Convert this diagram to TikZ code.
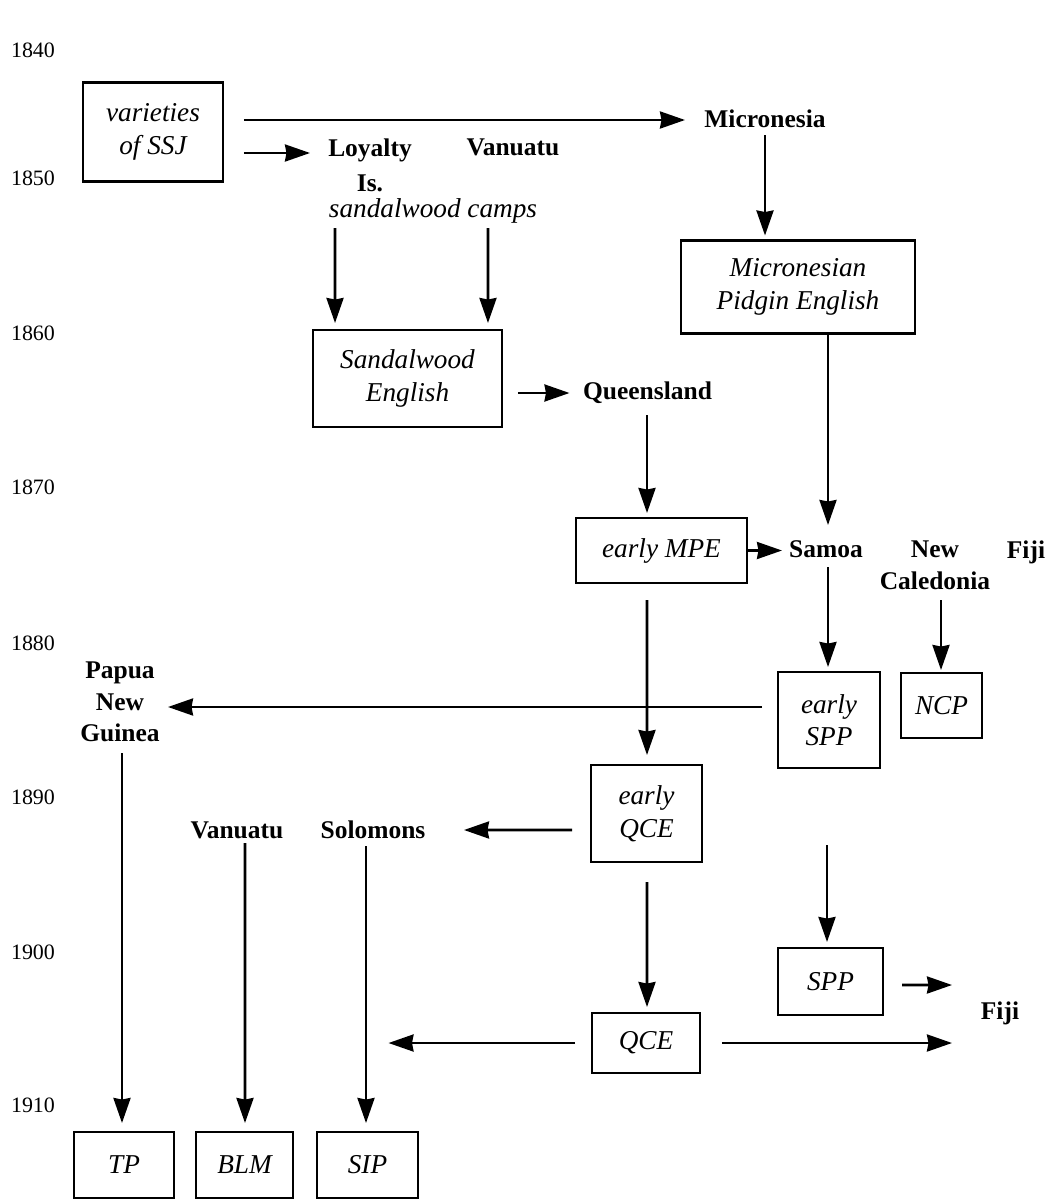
\documentclass[tikz,border=0pt]{standalone}
\usepackage{fontspec}
\setmainfont{Liberation Serif}
\usetikzlibrary{arrows.meta, calc}

\begin{document}
\begin{tikzpicture}[x=0.02cm, y=-0.02cm, >={Stealth[length=5mm, width=3.4mm, inset=0.3mm]},
    year/.style={inner sep=0, font=\fontsize{12.5}{15}\selectfont},
    place/.style={inner sep=0, align=center, font=\fontsize{14.5}{18}\selectfont\bfseries},
    note/.style={inner sep=0, align=center, font=\fontsize{15.5}{18.5}\selectfont\itshape},
    lang/.style={note, draw, line width=1.6pt, outer sep=0},
    link/.style={->, line width=1.5pt}]
    \useasboundingbox (0,0) rectangle (1049,1200);

    % time scale
    \foreach \yr/\yy in {1840/50, 1850/178, 1860/333, 1870/487, 1880/643, 1890/797, 1900/952, 1910/1105}
        \node[year] (y\yr) at (33,\yy) {\yr};

    % varieties
    \node[lang, minimum width=2.8cm, minimum height=1.98cm] (ssj) at (153,132) {varieties\\of SSJ};
    \node[lang, minimum width=4.68cm, minimum height=1.86cm] (mpe) at (798,287) {Micronesian\\Pidgin English};
    \node[lang, minimum width=3.78cm, minimum height=1.94cm] (sde) at (407.5,378.5) {Sandalwood\\English};
    \node[lang, minimum width=3.42cm, minimum height=1.3cm] (empe) at (661.5,550.5) {early MPE};
    \node[lang, minimum width=2.04cm, minimum height=1.92cm] (espp) at (829,720) {early\\SPP};
    \node[lang, minimum width=1.62cm, minimum height=1.3cm] (ncp) at (941.5,705.5) {NCP};
    \node[lang, minimum width=2.22cm, minimum height=1.94cm] (eqce) at (646.5,813.5) {early\\QCE};
    \node[lang, minimum width=2.1cm, minimum height=1.34cm] (spp) at (830.5,981.5) {SPP};
    \node[lang, minimum width=2.16cm, minimum height=1.2cm] (qce) at (646,1043) {QCE};
    \node[lang, minimum width=2cm, minimum height=1.32cm] (tp) at (124,1165) {TP};
    \node[lang, minimum width=1.94cm, minimum height=1.32cm] (blm) at (244.5,1165) {BLM};
    \node[lang, minimum width=2.02cm, minimum height=1.32cm] (sip) at (367.5,1165) {SIP};

    % places
    \node[place] (micronesia) at (765,119) {Micronesia};
    \node[place] (loyalty) at (370,165) {Loyalty\\[2pt]Is.};
    \node[place] (vanuatuA) at (513,147) {Vanuatu};
    \node[note] (camps) at (433,211) {sandalwood camps};
    \node[place] (queensland) at (647.5,393) {Queensland};
    \node[place] (samoa) at (826,549) {Samoa};
    \node[place] (newcal) at (935,565) {New\\Caledonia};
    \node[place] (fijiA) at (1026,552) {Fiji};
    \node[place] (png) at (120,702) {Papua\\New\\Guinea};
    \node[place] (vanuatuB) at (237,830) {Vanuatu};
    \node[place] (solomons) at (373,830) {Solomons};
    \node[place] (fijiB) at (1000,1013) {Fiji};
    \coordinate (qceleft) at ($(qce.west -| sip)+(21,0)$);

    % spread
    \draw[link] ($(ssj.east |- micronesia)+(21,1)$) -- ($(micronesia)+(-80,1)$);
    \draw[link] ($(ssj.east)+(21,21)$) -- ($(ssj.east -| loyalty)+(-60,21)$);
    \draw[link] ($(camps)+(-98,17)$) -- ($(sde.north west)+(22,-7)$);
    \draw[link] ($(camps)+(55,17)$) -- ($(sde.north east)+(-14,-7)$);
    \draw[link] ($(micronesia)+(0,16)$) -- ($(micronesia |- mpe.north)+(0,-5)$);
    \draw[link] ($(sde.east |- queensland)+(16,0)$) -- ($(queensland)+(-78,0)$);
    \draw[link] ($(mpe.south)+(30,0)$) -- ($(samoa)+(2,-24)$);
    \draw[link] ($(queensland)+(-0.5,22)$) -- ($(empe.north)+(-14.5,-5)$);
    \draw[link] (empe.east) -- ($(samoa)+(-44,1.5)$);
    \draw[link] ($(samoa)+(2,18)$) -- ($(espp.north)+(-1,-5)$);
    \draw[link] ($(newcal)+(6,35)$) -- ($(ncp.north)+(-0.5,-3)$);
    \draw[link] ($(espp.west)+(-16,-13)$) -- ($(png)+(48,5)$);
    \draw[link] ($(empe.south)+(-14.5,17)$) -- ($(eqce.north)+(0.5,-10)$);
    \draw[link] ($(eqce.west)+(-19,16.5)$) -- ($(solomons)+(91,0)$);
    \draw[link] ($(png)+(2,51)$) -- ($(tp.north)+(-2,-9)$);
    \draw[link] ($(vanuatuB)+(8,13)$) -- ($(blm.north)+(0.5,-9)$);
    \draw[link] ($(solomons)+(-7,16)$) -- ($(sip.north)+(-1.5,-9)$);
    \draw[link] ($(espp.south)+(-2,77)$) -- ($(spp.north)+(-3.5,-6)$);
    \draw[link] ($(eqce.south)+(0.5,20)$) -- ($(qce.north)+(1,-6)$);
    \draw[link] ($(spp.east)+(19,3.5)$) -- ($(fijiB)+(-48,-28)$);
    \draw[link] ($(qce.east)+(22,0)$) -- ($(qce.east -| fijiB)+(-48,0)$);
    \draw[link] ($(qce.west)+(-17,0)$) -- (qceleft);
\end{tikzpicture}
\end{document}
